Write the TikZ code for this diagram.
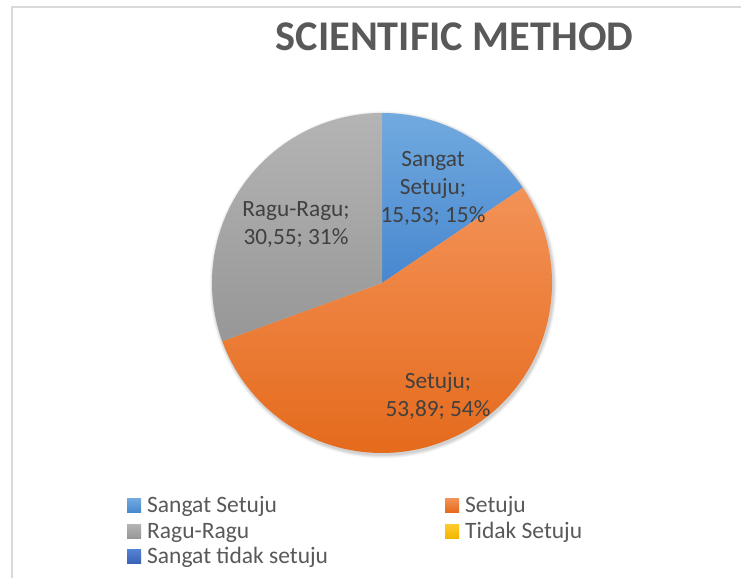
\documentclass[tikz,border=0pt]{standalone}
\usepackage{fontspec}
\setmainfont{Carlito}
\definecolor{framecol}{HTML}{D9D9D9}
\definecolor{titlecol}{HTML}{595959}
\definecolor{labelcol}{HTML}{404040}
\definecolor{legcol}{HTML}{595959}
\definecolor{bluetop}{HTML}{72AADF}
\definecolor{bluebot}{HTML}{4787CF}
\definecolor{orangetop}{HTML}{F39257}
\definecolor{orangebot}{HTML}{E4691A}
\definecolor{graytop}{HTML}{B4B4B4}
\definecolor{graybot}{HTML}{979797}
\definecolor{goldtop}{HTML}{FFCB2E}
\definecolor{goldbot}{HTML}{F2B600}
\definecolor{dbluetop}{HTML}{5584D4}
\definecolor{dbluebot}{HTML}{3A63B8}
\tikzset{
  slicelabel/.style={font=\fontsize{23.3}{28.4}\selectfont, text=labelcol, align=center, inner sep=0pt, anchor=base},
  legtext/.style={font=\fontsize{23.5}{28}\selectfont, text=legcol, inner sep=0pt, anchor=base west},
}
\begin{document}
\begin{tikzpicture}[x=1pt,y=1pt]
\useasboundingbox (0,0) rectangle (741,578);
\fill[white] (0,0) rectangle (741,578);
% frame
\draw[framecol, line width=2pt] (12,0) -- (12,571) -- (741,571);
% title
\node[font=\bfseries\fontsize{42.3}{48}\selectfont, text=titlecol, inner sep=0pt, anchor=base] (title) at (454.5,527.3) {SCIENTIFIC METHOD};
% pie
\coordinate (c) at (382,295);
\foreach \k/\o in {4/0.03,3/0.04,2/0.05,1/0.06}
  \fill[black, opacity=\o] ([shift={(1.2,-1.8)}]c) circle ({170+\k*0.9});
\shade[top color=bluetop, bottom color=bluebot] (c) -- ++(90:170) arc[start angle=90, end angle=34.07, radius=170] -- cycle;
\shade[top color=orangetop, bottom color=orangebot] (c) -- ++(34.07:170) arc[start angle=34.07, end angle=-159.99, radius=170] -- cycle;
\shade[top color=graytop, bottom color=graybot] (c) -- ++(-159.99:170) arc[start angle=-159.99, end angle=-270, radius=170] -- cycle;
% slice labels (base anchor = last line baseline)
\node[slicelabel] (lblss) at (433,355) {Sangat\\Setuju;\\15,53; 15\%};
\node[slicelabel] (lbls) at (438,161.3) {Setuju;\\53,89; 54\%};
\node[slicelabel] (lblr) at (296,333) {Ragu-Ragu;\\30,55; 31\%};
% legend
\shade[top color=bluetop, bottom color=bluebot] (127,65.5) rectangle (141,79.5);
\node[legtext] (legss) at (147,65.5) {Sangat Setuju};
\shade[top color=orangetop, bottom color=orangebot] (445,65.5) rectangle (459,79.5);
\node[legtext] (legs) at (465,65.5) {Setuju};
\shade[top color=graytop, bottom color=graybot] (127,39.8) rectangle (141,53.8);
\node[legtext] (legr) at (147,39.8) {Ragu-Ragu};
\shade[top color=goldtop, bottom color=goldbot] (445,39.8) rectangle (459,53.8);
\node[legtext] (legt) at (465,39.8) {Tidak Setuju};
\shade[top color=dbluetop, bottom color=dbluebot] (127,14.8) rectangle (141,28.8);
\node[legtext] (legst) at (147,14.8) {Sangat tidak setuju};
\end{tikzpicture}
\end{document}
